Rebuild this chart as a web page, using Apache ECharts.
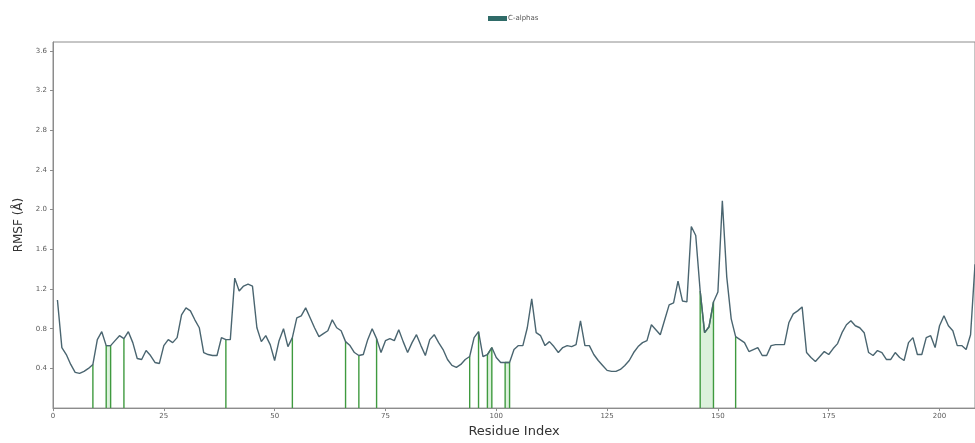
<!DOCTYPE html>
<html>
<head>
<meta charset="utf-8">
<script src="https://cdn.jsdelivr.net/npm/echarts@6/dist/echarts.min.js"></script>
<style>
  html, body { margin: 0; padding: 0; background: #ffffff; }
  #chart { width: 975px; height: 443px; }
</style>
</head>
<body>
<div id="chart"></div>
<script>
// Per-residue C-alpha RMSF (Å), residues 1..208
const rmsf = [
  1.09, 0.61, 0.54, 0.44, 0.36, 0.35, 0.37, 0.40, 0.44, 0.69,
  0.77, 0.63, 0.63, 0.68, 0.73, 0.70, 0.77, 0.66, 0.50, 0.49,
  0.58, 0.53, 0.46, 0.45, 0.63, 0.69, 0.66, 0.71, 0.94, 1.01,
  0.98, 0.89, 0.81, 0.56, 0.54, 0.53, 0.53, 0.71, 0.69, 0.69,
  1.31, 1.18, 1.23, 1.25, 1.23, 0.81, 0.67, 0.73, 0.64, 0.48,
  0.68, 0.80, 0.62, 0.71, 0.91, 0.93, 1.01, 0.91, 0.81, 0.72,
  0.75, 0.78, 0.89, 0.81, 0.78, 0.67, 0.63, 0.56, 0.53, 0.54,
  0.69, 0.80, 0.70, 0.56, 0.68, 0.70, 0.68, 0.79, 0.67, 0.56,
  0.66, 0.74, 0.63, 0.53, 0.69, 0.74, 0.66, 0.59, 0.49, 0.43,
  0.41, 0.44, 0.49, 0.52, 0.71, 0.77, 0.52, 0.54, 0.61, 0.51,
  0.46, 0.46, 0.46, 0.59, 0.63, 0.63, 0.81, 1.10, 0.76, 0.73,
  0.63, 0.67, 0.62, 0.56, 0.61, 0.63, 0.62, 0.64, 0.88, 0.63,
  0.63, 0.54, 0.48, 0.43, 0.38, 0.37, 0.37, 0.39, 0.43, 0.48,
  0.56, 0.62, 0.66, 0.68, 0.84, 0.79, 0.74, 0.89, 1.04, 1.06,
  1.28, 1.08, 1.07, 1.83, 1.74, 1.18, 0.76, 0.82, 1.07, 1.17,
  2.09, 1.32, 0.90, 0.72, 0.69, 0.66, 0.57, 0.59, 0.61, 0.53,
  0.53, 0.63, 0.64, 0.64, 0.64, 0.86, 0.95, 0.98, 1.02, 0.56,
  0.51, 0.47, 0.52, 0.57, 0.54, 0.60, 0.65, 0.76, 0.84, 0.88,
  0.83, 0.81, 0.76, 0.56, 0.53, 0.58, 0.56, 0.49, 0.49, 0.56,
  0.51, 0.48, 0.66, 0.71, 0.54, 0.54, 0.71, 0.73, 0.61, 0.83,
  0.93, 0.83, 0.78, 0.63, 0.63, 0.59, 0.74, 1.45
];

// Residues in contact with the ligand
const contactResidues = [9, 12, 13, 16, 39, 54, 66, 69, 73, 94, 96, 98, 99, 102, 103, 146, 147, 148, 149, 154];

// Tick positions
const xTicks = [0, 25, 50, 75, 100, 125, 150, 175, 200];
const yTicks = [0.4, 0.8, 1.2, 1.6, 2.0, 2.4, 2.8, 3.2, 3.6];

const seriesName = 'C-alphas';

// Line points: [residue, rmsf]
const linePoints = rmsf.map((v, i) => [i + 1, v]);

// Group consecutive contact residues into runs; each run becomes a filled
// region under the curve (a single residue collapses to a vertical line).
const runs = [];
contactResidues.forEach(r => {
  const last = runs[runs.length - 1];
  if (last && r === last[last.length - 1] + 1) last.push(r);
  else runs.push([r]);
});
const contactPoints = [];
runs.forEach((run, k) => {
  if (k > 0) contactPoints.push([run[0], '-']);
  contactPoints.push([run[0], 0]);
  run.forEach(r => contactPoints.push([r, rmsf[r - 1]]));
  contactPoints.push([run[run.length - 1], 0]);
});

const FONT = 'DejaVu Sans';
const axisGray = '#8c8c8c';
const labelGray = '#5a5a5a';

const chart = echarts.init(document.getElementById('chart'), null, { renderer: 'canvas' });
chart.setOption({
  animation: false,
  backgroundColor: '#ffffff',
  legend: {
    top: 10,
    left: 483,
    itemWidth: 19,
    itemHeight: 5,
    itemGap: 4,
    textStyle: { fontFamily: FONT, fontSize: 7, color: '#555555', padding: [0, 0, 0, -4] },
    data: [{ name: seriesName, icon: 'rect', itemStyle: { color: '#2f6b68' } }]
  },
  grid: {
    left: 53, right: 0, top: 42, bottom: 32,
    show: true, borderColor: axisGray, borderWidth: 1, backgroundColor: 'transparent'
  },
  xAxis: {
    type: 'value',
    min: 0,
    max: 208,
    name: 'Residue Index',
    nameLocation: 'middle',
    nameGap: 16,
    nameTextStyle: { fontFamily: FONT, fontSize: 13, color: '#333333' },
    splitLine: { show: false },
    axisLine: { show: true, lineStyle: { color: axisGray, width: 1 } },
    axisTick: { show: true, length: 3, lineStyle: { color: axisGray }, customValues: xTicks },
    axisLabel: { fontFamily: FONT, fontSize: 7, color: labelGray, margin: 5, customValues: xTicks }
  },
  yAxis: {
    type: 'value',
    min: 0,
    max: 3.69,
    name: 'RMSF (Å)',
    nameLocation: 'middle',
    nameGap: 26,
    nameTextStyle: { fontFamily: FONT, fontSize: 12, color: '#333333' },
    splitLine: { show: false },
    axisLine: { show: true, lineStyle: { color: axisGray, width: 1 } },
    axisTick: { show: true, length: 3, lineStyle: { color: axisGray }, customValues: yTicks },
    axisLabel: {
      fontFamily: FONT, fontSize: 7, color: labelGray, margin: 6, customValues: yTicks,
      formatter: v => Number(v).toFixed(1)
    }
  },
  series: [
    {
      name: 'contacts',
      type: 'line',
      data: contactPoints,
      showSymbol: false,
      connectNulls: false,
      silent: true,
      z: 2,
      lineStyle: { color: '#3f9a3f', width: 1.4 },
      areaStyle: { color: 'rgba(130, 205, 130, 0.4)' }
    },
    {
      name: seriesName,
      type: 'line',
      data: linePoints,
      showSymbol: false,
      z: 3,
      color: '#2f6b68',
      lineStyle: { color: '#4a6570', width: 1.4 }
    }
  ]
});
</script>
</body>
</html>
